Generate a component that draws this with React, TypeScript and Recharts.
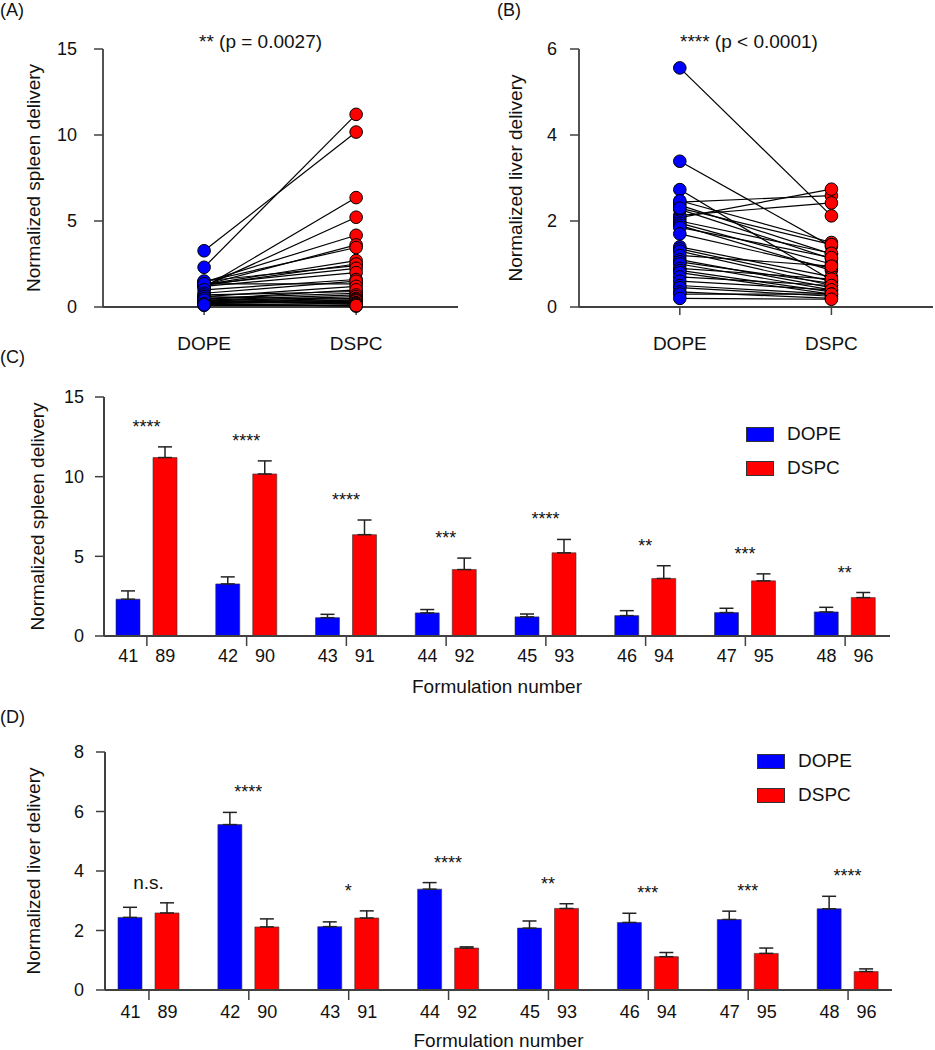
import React from 'react'
import { ComposedChart, Scatter, BarChart, Bar, ErrorBar, XAxis, YAxis, Legend, LabelList } from 'recharts'

const FONT = '"Liberation Sans", Arial, Helvetica, sans-serif'
const BLUE = '#0000ff'
const RED = '#ff0000'
const AXIS = '#404040'
const INK = '#111111'

// (A) paired spleen delivery, one entry per formulation pair
const spleenDope = [2.31, 3.27, 1.15, 1.45, 1.2, 1.28, 1.47, 1.51, 1.3, 1.25, 1.32, 1.2, 1.35, 1.0, 0.8, 0.6, 0.7, 0.5, 0.45, 0.4, 0.35, 0.3, 0.6, 0.25, 0.5, 0.2, 0.3, 0.15, 0.4, 0.1, 0.2, 0.12]
const spleenDspc = [11.2, 10.17, 6.36, 4.17, 5.22, 3.61, 3.46, 2.41, 2.7, 2.5, 2.25, 2.0, 1.35, 1.6, 1.5, 1.2, 0.9, 0.8, 1.0, 0.7, 0.6, 0.5, 0.45, 0.4, 0.3, 0.35, 0.25, 0.2, 0.15, 0.1, 0.05, 0.08]

// (B) paired liver delivery
const liverDope = [2.44, 5.56, 2.13, 3.39, 2.08, 2.27, 2.37, 2.73, 2.47, 2.3, 2.0, 1.95, 1.9, 1.85, 1.7, 1.4, 1.35, 1.3, 1.2, 1.1, 1.05, 1.0, 0.9, 0.85, 0.8, 0.7, 0.6, 0.5, 0.45, 0.35, 0.3, 0.2]
const liverDspc = [2.59, 2.12, 2.42, 1.41, 2.74, 1.12, 1.23, 0.62, 1.5, 1.45, 1.25, 1.0, 0.85, 1.15, 0.9, 0.7, 0.6, 0.5, 0.95, 0.45, 0.55, 0.4, 0.65, 0.35, 0.3, 0.5, 0.4, 0.3, 0.25, 0.2, 0.3, 0.18]

// (C)/(D) formulation numbers
const dopeIds = ['41', '42', '43', '44', '45', '46', '47', '48']
const dspcIds = ['89', '90', '91', '92', '93', '94', '95', '96']

// (C) spleen, mean + upper error
const spleenDopeMean = [2.31, 3.27, 1.15, 1.45, 1.2, 1.28, 1.47, 1.51]
const spleenDopeErr = [0.52, 0.44, 0.21, 0.21, 0.18, 0.31, 0.27, 0.29]
const spleenDspcMean = [11.2, 10.17, 6.36, 4.17, 5.22, 3.61, 3.46, 2.41]
const spleenDspcErr = [0.67, 0.82, 0.92, 0.72, 0.84, 0.8, 0.44, 0.32]
const spleenSig = ['****', '****', '****', '***', '****', '**', '***', '**']

// (D) liver, mean + upper error
const liverDopeMean = [2.44, 5.56, 2.13, 3.39, 2.08, 2.27, 2.37, 2.73]
const liverDopeErr = [0.34, 0.41, 0.16, 0.22, 0.24, 0.31, 0.28, 0.42]
const liverDspcMean = [2.59, 2.12, 2.42, 1.41, 2.74, 1.12, 1.23, 0.62]
const liverDspcErr = [0.34, 0.27, 0.24, 0.04, 0.16, 0.14, 0.18, 0.09]
const liverSig = ['n.s.', '****', '*', '****', '**', '***', '***', '****']

const BAR = 24
const GAP = 13

const textStyle = { fontFamily: FONT, fill: INK }

const yTitle = (text: string, dx: number) => (props: any) => {
  const vb = props.viewBox || {}
  const cx = (vb.x || 0) + dx
  const cy = (vb.y || 0) + (vb.height || 0) / 2
  return (
    <text x={cx} y={cy} transform={`rotate(-90 ${cx} ${cy})`} textAnchor="middle" dominantBaseline="central" fontSize={19} {...textStyle}>
      {text}
    </text>
  )
}

const xTitle = (text: string, dy: number) => (props: any) => {
  const vb = props.viewBox || {}
  return (
    <text x={(vb.x || 0) + (vb.width || 0) / 2} y={(vb.y || 0) + dy} textAnchor="middle" fontSize={19} {...textStyle}>
      {text}
    </text>
  )
}

const dot = (fill: string) => (props: any) => (
  <circle cx={props.cx} cy={props.cy} r={6.3} fill={fill} stroke="#000" strokeWidth={1} />
)

function PairedChart({ dope, dspc, yMax, ticks, yLabel, width, yAxisWidth, labelDx, tickMargin }: any) {
  const dopePts = dope.map((v: number) => ({ x: 0, y: v }))
  const dspcPts = dspc.map((v: number) => ({ x: 1, y: v }))
  return (
    <ComposedChart width={width} height={360} margin={{ top: 49, right: 2, bottom: 0, left: 0 }}>
      <XAxis
        type="number"
        dataKey="x"
        domain={[-0.665, 1.67]}
        ticks={[0, 1]}
        allowDataOverflow
        tickFormatter={(v) => (v === 0 ? 'DOPE' : 'DSPC')}
        height={53}
        tickSize={8}
        tickMargin={22}
        axisLine={{ stroke: AXIS, strokeWidth: 1.8 }}
        tickLine={{ stroke: AXIS, strokeWidth: 1.5 }}
        tick={{ fontSize: 19, fontFamily: FONT, fill: INK }}
      />
      <YAxis
        type="number"
        dataKey="y"
        domain={[0, yMax]}
        ticks={ticks}
        width={yAxisWidth}
        tickSize={9}
        tickMargin={tickMargin}
        axisLine={{ stroke: AXIS, strokeWidth: 1.8 }}
        tickLine={{ stroke: AXIS, strokeWidth: 1.5 }}
        tick={{ fontSize: 18, fontFamily: FONT, fill: INK }}
        label={{ content: yTitle(yLabel, labelDx) }}
      />
      {dope.map((v: number, i: number) => (
        <Scatter
          key={'l' + i}
          data={[{ x: 0, y: v }, { x: 1, y: dspc[i] }]}
          line={{ stroke: '#000', strokeWidth: 1.2 }}
          lineType="joint"
          shape={() => <g />}
          isAnimationActive={false}
        />
      ))}
      <Scatter data={dopePts} shape={dot(BLUE)} isAnimationActive={false} />
      <Scatter data={dspcPts} shape={dot(RED)} isAnimationActive={false} />
    </ComposedChart>
  )
}

const PairTick = (props: any) => {
  const { x, y, payload } = props
  const [a, b] = String(payload.value).split('|')
  const off = (BAR + GAP) / 2
  return (
    <g>
      <text x={x - off} y={y} dy="0.71em" textAnchor="middle" fontSize={18} {...textStyle}>{a}</text>
      <text x={x + off} y={y} dy="0.71em" textAnchor="middle" fontSize={18} {...textStyle}>{b}</text>
    </g>
  )
}

const legendContent = (props: any) => (
  <div>
    {(props.payload || []).map((p: any) => (
      <div key={p.value} style={{ display: 'flex', alignItems: 'center', height: 34 }}>
        <span style={{ display: 'inline-block', width: 26, height: 13, background: p.color, border: '1px solid #333', marginRight: 13 }} />
        <span style={{ fontSize: 19, fontFamily: FONT, color: INK }}>{p.value}</span>
      </div>
    ))}
  </div>
)

function FormulationChart({ dopeMean, dopeErr, dspcMean, dspcErr, sig, yMax, ticks, yLabel, labelDx, height, margin, yAxisWidth, xAxisHeight, padding, tickMargin, xTickMargin, legendPos }: any) {
  const rows = dopeIds.map((id, i) => ({
    pair: `${id}|${dspcIds[i]}`,
    DOPE: dopeMean[i],
    DSPC: dspcMean[i],
    dopeErr: [0, dopeErr[i]],
    dspcErr: [0, dspcErr[i]],
    sig: sig[i],
    top: Math.max(dopeMean[i] + dopeErr[i], dspcMean[i] + dspcErr[i]),
  }))

  // significance marks sit a fixed distance above the taller whisker of each pair
  const sigLabel = (props: any) => {
    const vb = props.viewBox && props.viewBox.width != null ? props.viewBox : props
    const r = rows[props.index]
    if (!r) return null
    const base = vb.y + vb.height
    const k = vb.height / r.DSPC
    const ty = base - r.top * k - 14
    const cx = vb.x - GAP / 2
    return (
      <text x={cx} y={ty} textAnchor="middle" fontSize={r.sig === 'n.s.' ? 19 : 18} {...textStyle}>
        {r.sig}
      </text>
    )
  }

  return (
    <BarChart width={935} height={height} data={rows} margin={margin} barSize={BAR} barGap={GAP}>
      <XAxis
        dataKey="pair"
        height={xAxisHeight}
        padding={padding}
        tickSize={10}
        tickMargin={xTickMargin}
        axisLine={{ stroke: AXIS, strokeWidth: 2 }}
        tickLine={{ stroke: AXIS, strokeWidth: 1.5 }}
        tick={<PairTick />}
        interval={0}
        label={{ content: xTitle('Formulation number', 57) }}
      />
      <YAxis
        domain={[0, yMax]}
        ticks={ticks}
        width={yAxisWidth}
        tickSize={9}
        tickMargin={tickMargin}
        axisLine={{ stroke: AXIS, strokeWidth: 2 }}
        tickLine={{ stroke: AXIS, strokeWidth: 1.5 }}
        tick={{ fontSize: 18, fontFamily: FONT, fill: INK }}
        label={{ content: yTitle(yLabel, labelDx) }}
      />
      <Legend
        layout="horizontal"
        verticalAlign="middle"
        align="center"
        wrapperStyle={{ left: legendPos[0], top: legendPos[1], width: 130, height: 70 }}
        content={legendContent}
      />
      <Bar dataKey="DOPE" name="DOPE" fill={BLUE} stroke="#333" strokeWidth={0.6} isAnimationActive={false}>
        <ErrorBar dataKey="dopeErr" width={7} stroke="#222" strokeWidth={1.5} />
      </Bar>
      <Bar dataKey="DSPC" name="DSPC" fill={RED} stroke="#333" strokeWidth={0.6} isAnimationActive={false}>
        <ErrorBar dataKey="dspcErr" width={7} stroke="#222" strokeWidth={1.5} />
        <LabelList dataKey="sig" content={sigLabel} />
      </Bar>
    </BarChart>
  )
}

const abs = (left: number, top: number): React.CSSProperties => ({ position: 'absolute', left, top })
const captionStyle: React.CSSProperties = { fontFamily: FONT, fontSize: 18, color: INK, lineHeight: '20px', whiteSpace: 'nowrap' }

export default function App() {
  return (
    <div style={{ position: 'absolute', left: 0, top: 0, width: 935, height: 1050, background: '#fff', overflow: 'hidden' }}>
      <div style={abs(0, 0)}>
        <PairedChart dope={spleenDope} dspc={spleenDspc} yMax={15} ticks={[0, 5, 10, 15]} yLabel="Normalized spleen delivery" width={460} yAxisWidth={103} labelDx={33} tickMargin={17} />
      </div>
      <div style={abs(460, 0)}>
        <PairedChart dope={liverDope} dspc={liverDspc} yMax={6} ticks={[0, 2, 4, 6]} yLabel="Normalized liver delivery" width={475} yAxisWidth={119} labelDx={55} tickMargin={13} />
      </div>
      <div style={abs(0, 360)}>
        <FormulationChart
          dopeMean={spleenDopeMean} dopeErr={spleenDopeErr} dspcMean={spleenDspcMean} dspcErr={spleenDspcErr} sig={spleenSig}
          yMax={15} ticks={[0, 5, 10, 15]} yLabel="Normalized spleen delivery" labelDx={37}
          height={345} margin={{ top: 37, right: 45, bottom: 0, left: 0 }} yAxisWidth={104} xAxisHeight={69}
          padding={{ left: -7, right: -5 }} tickMargin={11} xTickMargin={3} legendPos={[746, 57]}
        />
      </div>
      <div style={abs(0, 690)}>
        <FormulationChart
          dopeMean={liverDopeMean} dopeErr={liverDopeErr} dspcMean={liverDspcMean} dspcErr={liverDspcErr} sig={liverSig}
          yMax={8} ticks={[0, 2, 4, 6, 8]} yLabel="Normalized liver delivery" labelDx={33}
          height={360} margin={{ top: 62, right: 43, bottom: 0, left: 0 }} yAxisWidth={105} xAxisHeight={60}
          padding={{ left: -6, right: -6 }} tickMargin={12} xTickMargin={5} legendPos={[757, 54]}
        />
      </div>
      <div style={{ ...abs(0, 0), ...captionStyle }}>(A)</div>
      <div style={{ ...abs(497, 0), ...captionStyle }}>(B)</div>
      <div style={{ ...abs(0, 347), ...captionStyle }}>(C)</div>
      <div style={{ ...abs(0, 707), ...captionStyle }}>(D)</div>
      <div style={{ ...abs(199, 32), ...captionStyle, fontSize: 19 }}>** (p = 0.0027)</div>
      <div style={{ ...abs(680, 32), ...captionStyle, fontSize: 19 }}>**** (p &lt; 0.0001)</div>
    </div>
  )
}
